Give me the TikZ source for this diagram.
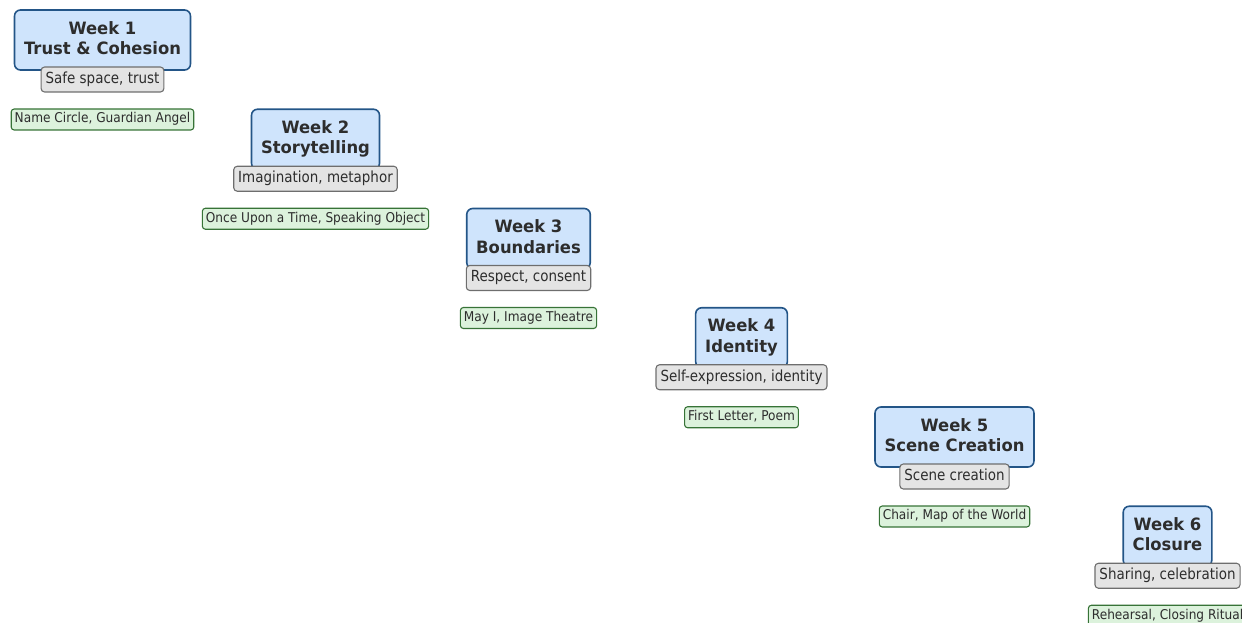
\documentclass[tikz,border=0pt]{standalone}
\usepackage{fontspec}
\setmainfont{DejaVu Sans}
\newfontfamily\weekfont[FakeStretch=0.965]{DejaVu Sans Bold}
\newfontfamily\themefont[FakeStretch=0.88]{DejaVu Sans}
\newfontfamily\actfont[FakeStretch=0.9]{DejaVu Sans}
\definecolor{weekfill}{RGB}{207,228,252}
\definecolor{weekline}{RGB}{35,85,135}
\definecolor{greyfill}{RGB}{228,228,228}
\definecolor{greyline}{RGB}{110,110,110}
\definecolor{greenfill}{RGB}{220,242,220}
\definecolor{greenline}{RGB}{55,115,55}
\definecolor{txt}{RGB}{45,45,45}
\begin{document}
\begin{tikzpicture}[x=1pt,y=-1pt,
  weekbox/.style={draw=weekline, fill=weekfill, line width=1.6pt, rounded corners=6pt,
    align=center, font=\weekfont\fontsize{17}{20.5}\selectfont, text=txt,
    inner xsep=9.5pt, inner ysep=11.8pt, text height=32.9pt, text depth=3.5pt},
  themebox/.style={draw=greyline, fill=greyfill, line width=1.1pt, rounded corners=3.5pt,
    font=\themefont\fontsize{15.3}{17}\selectfont, text=txt,
    inner xsep=4.5pt, inner ysep=5.15pt, text height=11.2pt, text depth=3.5pt},
  actbox/.style={draw=greenline, fill=greenfill, line width=1.1pt, rounded corners=3pt,
    font=\actfont\fontsize{13.5}{15}\selectfont, text=txt,
    inner xsep=3.5pt, inner ysep=4.1pt, text height=9.8pt, text depth=3pt}
]
\useasboundingbox (0,0) rectangle (1242,623);
\clip (0,0) rectangle (1242,623);

\node[weekbox] (w1) at (102.5,40) {Week 1\\Trust \& Cohesion};
\node[themebox] (t1) at (102.5,79.5) {Safe space, trust};
\node[actbox] (a1) at (102.5,119.5) {Name Circle, Guardian Angel};

\node[weekbox] (w2) at (315.5,139.25) {Week 2\\Storytelling};
\node[themebox] (t2) at (315.5,178.75) {Imagination, metaphor};
\node[actbox] (a2) at (315.5,218.75) {Once Upon a Time, Speaking Object};

\node[weekbox] (w3) at (528.5,238.5) {Week 3\\Boundaries};
\node[themebox] (t3) at (528.5,278) {Respect, consent};
\node[actbox] (a3) at (528.5,318) {May I, Image Theatre};

\node[weekbox] (w4) at (741.5,337.75) {Week 4\\Identity};
\node[themebox] (t4) at (741.5,377.25) {Self-expression, identity};
\node[actbox] (a4) at (741.5,417.25) {First Letter, Poem};

\node[weekbox] (w5) at (954.5,437) {Week 5\\Scene Creation};
\node[themebox] (t5) at (954.5,476.5) {Scene creation};
\node[actbox] (a5) at (954.5,516.5) {Chair, Map of the World};

\node[weekbox] (w6) at (1167.5,536.25) {Week 6\\Closure};
\node[themebox] (t6) at (1167.5,575.75) {Sharing, celebration};
\node[actbox] (a6) at (1167.5,615.75) {Rehearsal, Closing Ritual};
\end{tikzpicture}
\end{document}
